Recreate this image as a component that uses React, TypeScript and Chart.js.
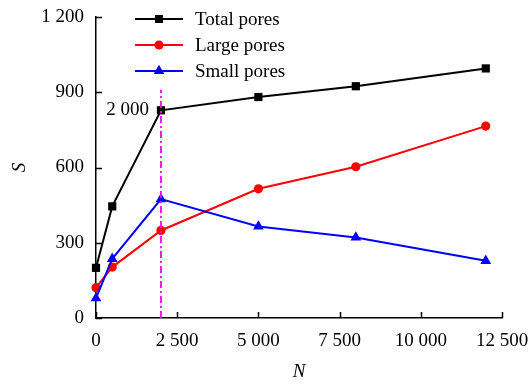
import React, { useEffect, useRef } from "react";
import { Chart, registerables } from "chart.js";

Chart.register(...registerables);

const nValues = [0, 500, 2000, 5000, 8000, 12000];
const totalPores = [200, 445, 828, 881, 924, 995];
const largePores = [121, 203, 349, 515, 603, 765];
const smallPores = [79, 236, 474, 365, 321, 228];
const seriesNames = ["Total pores", "Large pores", "Small pores"];
const seriesColors = ["#000000", "#ff0000", "#0000ff"];
const seriesMarkers = ["rect", "circle", "triangle"];
const markerN = [2000, 2000];
const markerS = [0, 910];
const markerLabel = "2 000";
const markerLabelS = 828;
const xTicks = [0, 2500, 5000, 7500, 10000, 12500];
const yTicks = [0, 300, 600, 900, 1200];
const xTitle = "N";
const yTitle = "S";

const FONT = "'Liberation Serif', 'Times New Roman', serif";
const fmt = (v: number) => String(v).replace(/\B(?=(\d{3})+(?!\d))/g, " ");

export default function App() {
  const ref = useRef<HTMLCanvasElement>(null);
  useEffect(() => {
    if (!ref.current) return;
    const series = [totalPores, largePores, smallPores];
    const radii = [5.8, 4.6, 6.2];
    const orders = [1, 3, 2];
    const datasets: any[] = series.map((vals, i) => ({
      label: seriesNames[i],
      data: nValues.map((n, j) => ({ x: n, y: vals[j] })),
      borderColor: seriesColors[i],
      backgroundColor: seriesColors[i],
      borderWidth: 2,
      pointStyle: seriesMarkers[i],
      pointRadius: radii[i],
      pointBorderWidth: 0,
      tension: 0,
      clip: false,
      order: orders[i],
    }));
    datasets.push({
      label: "marker",
      data: markerN.map((n, j) => ({ x: n, y: markerS[j] })),
      borderColor: "#ff00ff",
      borderWidth: 1.8,
      borderDash: [7, 3, 2, 3],
      pointRadius: 0,
      clip: false,
      order: 0,
    });

    const overlay = {
      id: "overlay",
      afterDraw(chart: any) {
        const ctx = chart.ctx;
        const xs = chart.scales.x;
        const ys = chart.scales.y;
        const a = chart.chartArea;
        ctx.save();
        ctx.strokeStyle = "#000";
        ctx.lineWidth = 1.5;
        ctx.beginPath();
        xTicks.forEach((v) => {
          const px = Math.round(xs.getPixelForValue(v)) + 0.5;
          ctx.moveTo(px, a.bottom);
          ctx.lineTo(px, a.bottom - 6);
        });
        yTicks.forEach((v) => {
          const py = Math.round(ys.getPixelForValue(v)) + 0.5;
          ctx.moveTo(a.left, py);
          ctx.lineTo(a.left + 6, py);
        });
        ctx.stroke();

        // marker label
        ctx.fillStyle = "#000";
        ctx.font = `19px ${FONT}`;
        ctx.textAlign = "right";
        ctx.textBaseline = "middle";
        ctx.fillText(markerLabel, xs.getPixelForValue(markerN[0]) - 12, ys.getPixelForValue(markerLabelS));

        // axis titles
        ctx.font = `italic 19px ${FONT}`;
        ctx.textAlign = "center";
        ctx.fillText(xTitle, (a.left + a.right) / 2, 372);
        ctx.save();
        ctx.translate(20, (a.top + a.bottom) / 2);
        ctx.rotate(-Math.PI / 2);
        ctx.fillText(yTitle, 0, 0);
        ctx.restore();

        // legend
        const rows = [19, 45, 71];
        ctx.font = `19px ${FONT}`;
        ctx.textAlign = "left";
        seriesNames.forEach((name, i) => {
          const y = rows[i];
          ctx.strokeStyle = seriesColors[i];
          ctx.fillStyle = seriesColors[i];
          ctx.lineWidth = 2;
          ctx.beginPath();
          ctx.moveTo(135, y);
          ctx.lineTo(183, y);
          ctx.stroke();
          const cx = 159;
          ctx.beginPath();
          if (i === 0) {
            ctx.rect(cx - 4, y - 4, 8, 8);
          } else if (i === 1) {
            ctx.arc(cx, y, 4.6, 0, Math.PI * 2);
          } else {
            const r = 6.2;
            ctx.moveTo(cx, y - r);
            ctx.lineTo(cx + r * Math.sin((2 * Math.PI) / 3), y + r / 2);
            ctx.lineTo(cx - r * Math.sin((2 * Math.PI) / 3), y + r / 2);
            ctx.closePath();
          }
          ctx.fill();
          ctx.fillStyle = "#000";
          ctx.fillText(name, 195, y + 1);
        });
        ctx.restore();
      },
    };

    const chart = new Chart(ref.current, {
      type: "line",
      data: { datasets },
      options: {
        responsive: false,
        animation: false,
        devicePixelRatio: 1,
        layout: { padding: { left: 0, right: 28, top: 17, bottom: 0 } },
        plugins: { legend: { display: false }, tooltip: { enabled: false } },
        scales: {
          x: {
            type: "linear",
            min: 0,
            max: 12500,
            afterFit: (s: any) => { s.height = 67; s.paddingLeft = 0; s.paddingRight = 0; },
            afterBuildTicks: (s: any) => { s.ticks = xTicks.map((v) => ({ value: v })); },
            grid: { display: false, drawTicks: false },
            border: { display: true, color: "#000", width: 1.5 },
            ticks: {
              color: "#000",
              padding: 12,
              maxRotation: 0,
              autoSkip: false,
              font: { family: FONT, size: 19 },
              callback: (v: any) => fmt(Number(v)),
            },
          },
          y: {
            type: "linear",
            min: 0,
            max: 1200,
            afterFit: (s: any) => { s.width = 96; s.paddingTop = 0; s.paddingBottom = 0; },
            afterBuildTicks: (s: any) => { s.ticks = yTicks.map((v) => ({ value: v })); },
            grid: { display: false, drawTicks: false },
            border: { display: true, color: "#000", width: 1.5 },
            ticks: {
              color: "#000",
              padding: 12,
              autoSkip: false,
              font: { family: FONT, size: 19 },
              callback: (v: any) => fmt(Number(v)),
            },
          },
        },
      },
      plugins: [overlay],
    } as any);
    return () => chart.destroy();
  }, []);

  return (
    <div style={{ position: "fixed", left: 0, top: 0, width: 530, height: 385, background: "#fff" }}>
      <canvas ref={ref} width={530} height={385} style={{ width: 530, height: 385, display: "block" }} />
    </div>
  );
}
